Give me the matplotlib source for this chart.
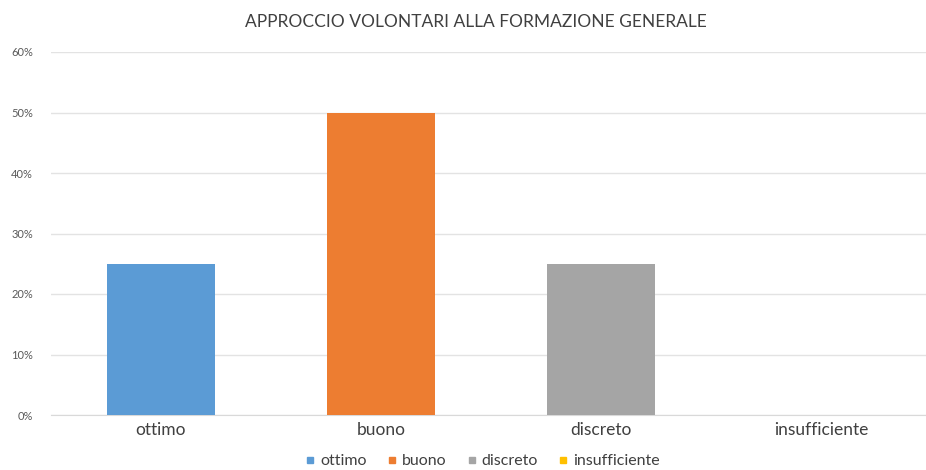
import matplotlib.pyplot as plt
from matplotlib.lines import Line2D

plt.rcParams['font.family'] = ['Lato', 'DejaVu Sans']

categories = ['ottimo', 'buono', 'discreto', 'insufficiente']
values = [25, 50, 25, 0]
colors = ['#5B9BD5', '#ED7D31', '#A5A5A5', '#FFC000']
yticks = [0, 10, 20, 30, 40, 50, 60]

fig = plt.figure(figsize=(9.26, 4.70), dpi=100)
ax = fig.add_axes([51 / 926, 55 / 470, 880 / 926, 363 / 470])

x = range(len(categories))
ax.bar(x, values, width=0.49, color=colors, zorder=3)

ax.set_xlim(-0.5, 3.5)
ax.set_ylim(0, 60)
ax.set_yticks(yticks)
ax.set_yticklabels([f'{v}%' for v in yticks], fontsize=8, color='#595959')
ax.set_xticks(list(x))
ax.set_xticklabels(categories, fontsize=12.5, color='#404040')
ax.tick_params(axis='y', length=0, pad=13)
ax.tick_params(axis='x', length=0, pad=5)
ax.grid(axis='y', color='#E3E3E3', linewidth=1, zorder=0)
for s in ['top', 'right', 'left']:
    ax.spines[s].set_visible(False)
ax.spines['bottom'].set_color('#D9D9D9')

fig.text(476 / 926, 1 - 22 / 470, 'APPROCCIO VOLONTARI ALLA FORMAZIONE GENERALE',
         ha='center', va='center', fontsize=12.5, color='#404040')

handles = [Line2D([], [], marker='s', linestyle='', color=c, markersize=5) for c in colors]
fig.legend(handles, categories, loc='center', bbox_to_anchor=(481 / 926, 1 - 461 / 470),
           ncol=4, frameon=False, fontsize=11.5, handletextpad=0.1, columnspacing=1.1,
           labelcolor='#404040', handlelength=1)

fig.savefig('out.png', dpi=100)
